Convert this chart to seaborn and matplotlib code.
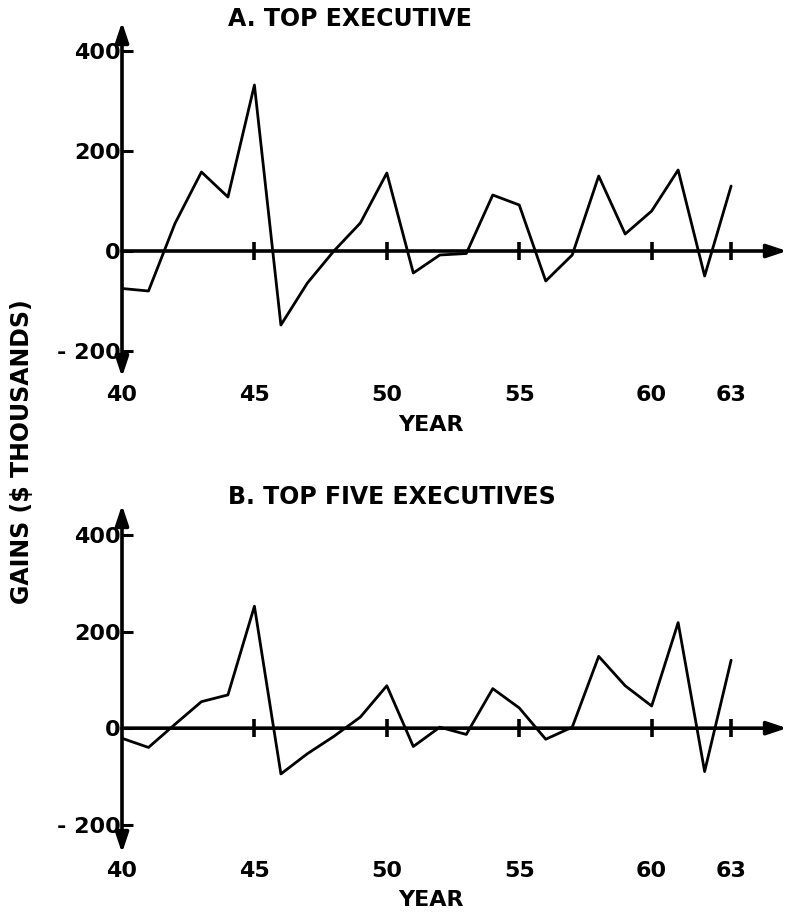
import matplotlib
matplotlib.use('Agg')
import matplotlib.pyplot as plt
import seaborn as sns
import pandas as pd

# Gains of top executives, 1940-1963 ($ thousands)
years = list(range(40, 64))
top_executive = [-75, -80, 55, 158, 108, 332, -148, -64, 0, 56, 156, -44, -8, -5,
                 112, 92, -60, -8, 150, 34, 80, 162, -50, 130]
top_five = [-21, -40, 8, 55, 69, 253, -95, -53, -17, 23, 88, -38, 2, -13,
            82, 42, -23, 2, 149, 88, 46, 219, -90, 141]

x_ticks = [40, 45, 50, 55, 60, 63]
x_ticklabels = ['40', '45', '50', '55', '60', '63']
y_ticks = [-200, 0, 200, 400]
y_ticklabels = ['- 200', '0', '200', '400']
titles = ['A. TOP EXECUTIVE', 'B. TOP FIVE EXECUTIVES']

sns.set_style('white')
plt.rcParams['font.family'] = ['DejaVu Sans']
plt.rcParams['text.color'] = 'black'
plt.rcParams['xtick.color'] = 'black'
plt.rcParams['ytick.color'] = 'black'
plt.rcParams['xtick.labelcolor'] = 'black'
plt.rcParams['ytick.labelcolor'] = 'black'

W, H = 797, 918
fig = plt.figure(figsize=(W / 100, H / 100), dpi=100)


def add_px_axes(left, top, right, bottom):
    return fig.add_axes([left / W, 1 - bottom / H, (right - left) / W, (bottom - top) / H])


panels = [
    # axes box in pixels, y limits, title y, year label y
    dict(box=(122, 22, 787, 377), ylim=(-252, 458), series=top_executive, title_y=19, year_y=425),
    dict(box=(122, 505, 787, 853), ylim=(-259, 463), series=top_five, title_y=497, year_y=900),
]

arrow_head = 'head_width=0.2,head_length=0.6'
xmax = 65.11
for p, title in zip(panels, titles):
    ax = add_px_axes(*p['box'])
    df = pd.DataFrame({'year': years, 'gain': p['series']})
    sns.lineplot(data=df, x='year', y='gain', ax=ax, color='black', linewidth=2.0)

    ax.set_xlim(40, xmax)
    ax.set_ylim(*p['ylim'])
    for s in ax.spines.values():
        s.set_visible(False)

    # axes drawn as arrows
    ax.annotate('', xy=(40, p['ylim'][1]), xytext=(40, p['ylim'][0]),
                arrowprops=dict(arrowstyle='<|-|>,' + arrow_head, lw=2.6,
                                color='black', mutation_scale=20, shrinkA=0, shrinkB=0),
                annotation_clip=False)
    ax.annotate('', xy=(xmax, 0), xytext=(40, 0),
                arrowprops=dict(arrowstyle='-|>,' + arrow_head, lw=2.6,
                                color='black', mutation_scale=20, shrinkA=0, shrinkB=0),
                annotation_clip=False)
    # small tick marks crossing the zero line
    ax.plot(x_ticks[1:], [0] * (len(x_ticks) - 1), linestyle='none', marker='|',
            markersize=13, markeredgewidth=2.6, color='black')

    ax.set_xticks(x_ticks)
    ax.set_xticklabels(x_ticklabels)
    ax.tick_params(axis='x', length=0, pad=6, labelsize=16)
    ax.set_yticks([t for t in y_ticks if t != 0] + [0])
    ax.set_yticklabels([l for t, l in zip(y_ticks, y_ticklabels) if t != 0] + ['0'])
    ax.tick_params(axis='y', direction='in', length=8, width=2.2, pad=1, labelsize=16,
                   left=True)
    for lab in ax.get_xticklabels() + ax.get_yticklabels():
        lab.set_fontweight('bold')
    ax.set_xlabel('')
    ax.set_ylabel('')

    fig.text(228 / W, 1 - p['title_y'] / H, title, ha='left', va='center',
             fontsize=17, fontweight='bold')
    fig.text(431 / W, 1 - p['year_y'] / H, 'YEAR', ha='center', va='center',
             fontsize=16, fontweight='bold')

fig.text(22 / W, 1 - 452 / H, 'GAINS ($ THOUSANDS)', rotation=90, ha='center', va='center',
         fontsize=17, fontweight='bold')

fig.savefig('out.png', dpi=100)
